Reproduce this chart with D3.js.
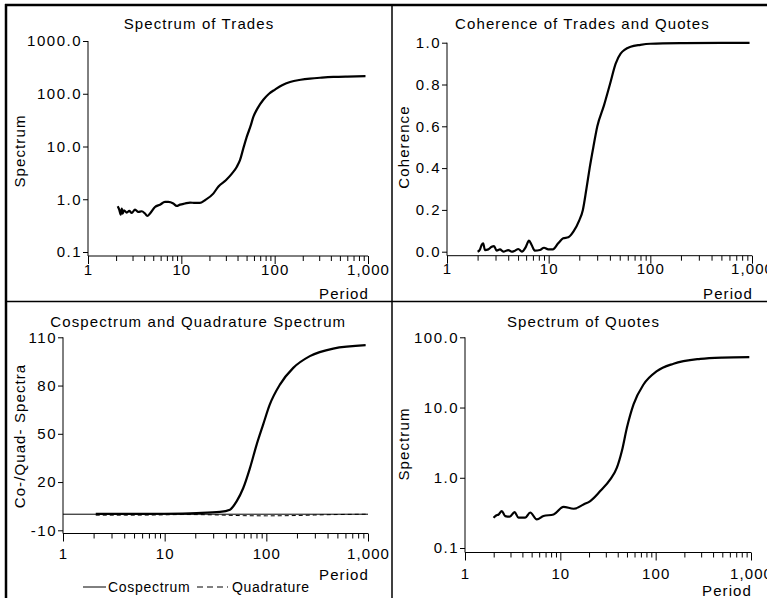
<!DOCTYPE html>
<html><head><meta charset="utf-8">
<script src="https://cdn.jsdelivr.net/npm/d3@7/dist/d3.min.js"></script>
<style>
html,body{margin:0;padding:0;background:#fff;}
svg{display:block;}
text{font-family:"Liberation Sans",Arial,Helvetica,sans-serif;fill:#000;}
</style></head>
<body>
<svg id="chart" width="767" height="598"></svg>
<script>
// ---------- data ----------
const xMajorTicks = [1, 10, 100, 1000];
const xMinorTicks = [2,3,4,5,6,7,8,9,20,30,40,50,60,70,80,90,200,300,400,500,600,700,800,900];

const tradesTicks = [0.1, 1, 10, 100, 1000];
const coherenceTicks = [0, 0.2, 0.4, 0.6, 0.8, 1.0];
const coQuadTicks = [-10, 20, 50, 80, 110];
const quotesTicks = [0.1, 1, 10, 100];

const tradesPeriod = [2.08,2.16,2.24,2.30,2.35,2.43,2.60,2.77,2.94,3.19,3.46,3.76,4.08,4.32,4.62,5.22,5.91,6.68,7.25,8.20,8.92,9.68,10.9,12.4,14.0,15.8,17.9,22.0,25,30,35,39.2,42.5,46,50.2,55,59.1,66,75.6,87,100.9,120,146,190,239,320,425,600,940];
const tradesSpectrum = [0.737,0.638,0.513,0.667,0.536,0.619,0.56,0.60,0.55,0.638,0.574,0.592,0.536,0.482,0.536,0.714,0.79,0.889,0.889,0.829,0.746,0.79,0.829,0.866,0.85,0.85,0.957,1.28,1.75,2.3,3.1,4.1,5.5,9.0,15.2,24,36.3,54,77,100,120,145,167,184,194,202,208,212,215];

const cohPeriod = [2.0,2.11,2.19,2.27,2.36,2.55,2.75,2.90,3.08,3.32,3.58,4.01,4.33,4.66,5.03,5.45,5.98,6.4,6.8,7.3,8.2,9.0,9.9,11.0,12.4,13.9,15.6,17.5,20.0,21.7,23.5,25.3,27.5,30.1,35,40,45.6,51,64,80,100,214,500,946];
const coherence = [0,0.011,0.032,0.04,0.008,0.011,0.024,0.027,0.005,0.011,0,0.008,0,0.005,0.013,0,0.024,0.053,0.032,0.005,0.008,0.019,0.011,0.011,0.04,0.064,0.069,0.096,0.15,0.2,0.3,0.4,0.5,0.6,0.7,0.8,0.9,0.948,0.981,0.99,0.995,0.998,0.999,0.999];

const coPeriod = [2.1,5,10,20.6,35,43.9,51,59.3,69,80.3,93,108,136,184,268,455,948];
const cospectrum = [0.2,0.2,0.3,0.7,1.4,2.8,8,16.3,28.7,43.3,55.7,68.1,80.6,91,98.3,103,105.1];
const quadPeriod = [2.1,4,8,15,30,60,100,200,300,500,948];
const quadrature = [-0.6,-0.6,-0.5,-0.2,-0.4,-0.9,-1.0,-0.8,-0.5,-0.2,0];

const quotesPeriod = [1.99,2.12,2.25,2.43,2.64,2.95,3.31,3.64,4.28,4.83,5.67,6.66,8.49,10.8,13.8,17.5,20.6,26.2,33.4,39.2,44.2,49.9,58.6,74.6,103,154,294,500,960];
const quotesSpectrum = [0.27,0.29,0.30,0.335,0.285,0.28,0.325,0.27,0.27,0.32,0.255,0.285,0.30,0.386,0.362,0.417,0.466,0.646,0.946,1.39,2.4,5.15,11.1,21.3,33,42.1,49.3,51.5,52.3];

// ---------- layout ----------
const FS = 15, LS = 1.1, LSY = 1.5;
const svg = d3.select("#chart");

function zip(a, b){ return a.map((v,i)=>[v, b[i]]); }

const panels = [
  {title:"Spectrum of Trades", tx:199, ty:29, ylab:"Spectrum", ylx:24.5, yly:151,
   x0:88, x1:368, yTop:41, yBot:252, axisY:256, ylog:true, yDomain:[0.1,1000], yTicks:tradesTicks,
   yFmt:d3.format(".1f"), xLabY:18.5, periodY:299,
   series:[{data:zip(tradesPeriod,tradesSpectrum), w:2.2}]},
  {title:"Coherence of Trades and Quotes", tx:582.5, ty:29, ylab:"Coherence", ylx:408.5, yly:147,
   x0:447, x1:752, yTop:42.7, yBot:251.7, axisY:255.7, ylog:false, yDomain:[0,1], yTicks:coherenceTicks,
   yFmt:d3.format(".1f"), xLabY:18.5, periodY:299,
   series:[{data:zip(cohPeriod,coherence), w:2.2}]},
  {title:"Cospectrum and Quadrature Spectrum", tx:198.3, ty:327, ylab:"Co-/Quad- Spectra", ylx:24.5, yly:436,
   x0:63, x1:368, yTop:337.3, yBot:530.3, axisY:533.5, ylog:false, yDomain:[-10,110], yTicks:coQuadTicks,
   yFmt:d=>String(d), xLabY:25.5, periodY:580, zeroLine:true,
   series:[{data:zip(coPeriod,cospectrum), w:2.2},{data:zip(quadPeriod,quadrature), w:1, dash:"4,3"}]},
  {title:"Spectrum of Quotes", tx:583.5, ty:327, ylab:"Spectrum", ylx:408.5, yly:444,
   x0:465, x1:751, yTop:337.3, yBot:548, axisY:552.5, ylog:true, yDomain:[0.1,100], yTicks:quotesTicks,
   yFmt:d3.format(".1f"), xLabY:26, periodY:595.5,
   series:[{data:zip(quotesPeriod,quotesSpectrum), w:2.2}]}
];

function styleText(sel, size, ls){
  sel.attr("font-family",'"Liberation Sans",Arial,Helvetica,sans-serif')
     .attr("font-size", size).attr("letter-spacing", ls).attr("fill","#000");
}

panels.forEach(p => {
  const g = svg.append("g");
  const x = d3.scaleLog().domain([1,1000]).range([p.x0, p.x1]);
  const y = (p.ylog ? d3.scaleLog() : d3.scaleLinear()).domain(p.yDomain).range([p.yBot, p.yTop]);

  // x axis: major + minor ticks
  const gxMaj = g.append("g").attr("transform",`translate(0,${p.axisY})`)
    .call(d3.axisBottom(x).tickValues(xMajorTicks).tickSize(8).tickSizeOuter(0).tickFormat(d3.format(",")));
  gxMaj.select(".domain").remove();
  gxMaj.selectAll("text").attr("y", p.xLabY).attr("dy", null);
  styleText(gxMaj.selectAll("text"), FS, LS);
  const gxMin = g.append("g").attr("transform",`translate(0,${p.axisY})`)
    .call(d3.axisBottom(x).tickValues(xMinorTicks).tickSize(5).tickSizeOuter(0).tickFormat(""));
  gxMin.select(".domain").remove();
  g.append("line").attr("x1",p.x0).attr("x2",p.x1).attr("y1",p.axisY).attr("y2",p.axisY)
    .attr("stroke","#000").attr("stroke-width",1);

  // y axis
  const gy = g.append("g").attr("transform",`translate(${p.x0},0)`)
    .call(d3.axisLeft(y).tickValues(p.yTicks).tickSize(5).tickPadding(1).tickSizeOuter(0).tickFormat(p.yFmt));
  gy.select(".domain").remove();
  styleText(gy.selectAll("text"), FS, LSY);
  g.append("line").attr("x1",p.x0).attr("x2",p.x0).attr("y1",p.yTop).attr("y2",p.axisY)
    .attr("stroke","#000").attr("stroke-width",1);
  g.selectAll(".tick line").attr("stroke","#000");

  if (p.zeroLine) {
    g.append("line").attr("x1",p.x0).attr("x2",p.x1).attr("y1",y(0)).attr("y2",y(0))
      .attr("stroke","#000").attr("stroke-width",1);
  }

  const line = d3.line().x(d=>x(d[0])).y(d=>y(d[1])).curve(d3.curveMonotoneX);
  p.series.forEach(s => {
    g.append("path").datum(s.data).attr("d", line).attr("fill","none")
      .attr("stroke","#000").attr("stroke-width", s.w)
      .attr("stroke-dasharray", s.dash || null).attr("stroke-linejoin","round");
  });

  // title
  styleText(g.append("text").attr("x",p.tx).attr("y",p.ty).attr("text-anchor","middle").text(p.title), FS, LS);
  // y label
  styleText(g.append("text").attr("transform",`translate(${p.ylx},${p.yly}) rotate(-90)`)
    .attr("text-anchor","middle").text(p.ylab), FS, LS);
  // x label
  styleText(g.append("text").attr("x",p.x1 + 1).attr("y",p.periodY).attr("text-anchor","end").text("Period"), FS, LS);
});

// legend (bottom-left panel)
const lg = svg.append("g");
lg.append("line").attr("x1",83).attr("x2",106).attr("y1",587).attr("y2",587).attr("stroke","#000").attr("stroke-width",1);
styleText(lg.append("text").attr("x",108).attr("y",592).text("Cospectrum"), 14, 0.7);
lg.append("line").attr("x1",197).attr("x2",228).attr("y1",587).attr("y2",587).attr("stroke","#000")
  .attr("stroke-width",1).attr("stroke-dasharray","6,4");
styleText(lg.append("text").attr("x",232).attr("y",592).text("Quadrature"), 14, 0.7);

// frame and dividers
const fr = svg.append("g").attr("stroke","#000").attr("fill","none");
fr.append("line").attr("x1",5).attr("x2",767).attr("y1",5).attr("y2",5).attr("stroke-width",2.5);
fr.append("line").attr("x1",6).attr("x2",6).attr("y1",4).attr("y2",598).attr("stroke-width",2.5);
fr.append("line").attr("x1",392).attr("x2",392).attr("y1",5).attr("y2",598).attr("stroke-width",1.5);
fr.append("line").attr("x1",6).attr("x2",767).attr("y1",301.5).attr("y2",301.5).attr("stroke-width",1.5);
</script>
</body></html>
